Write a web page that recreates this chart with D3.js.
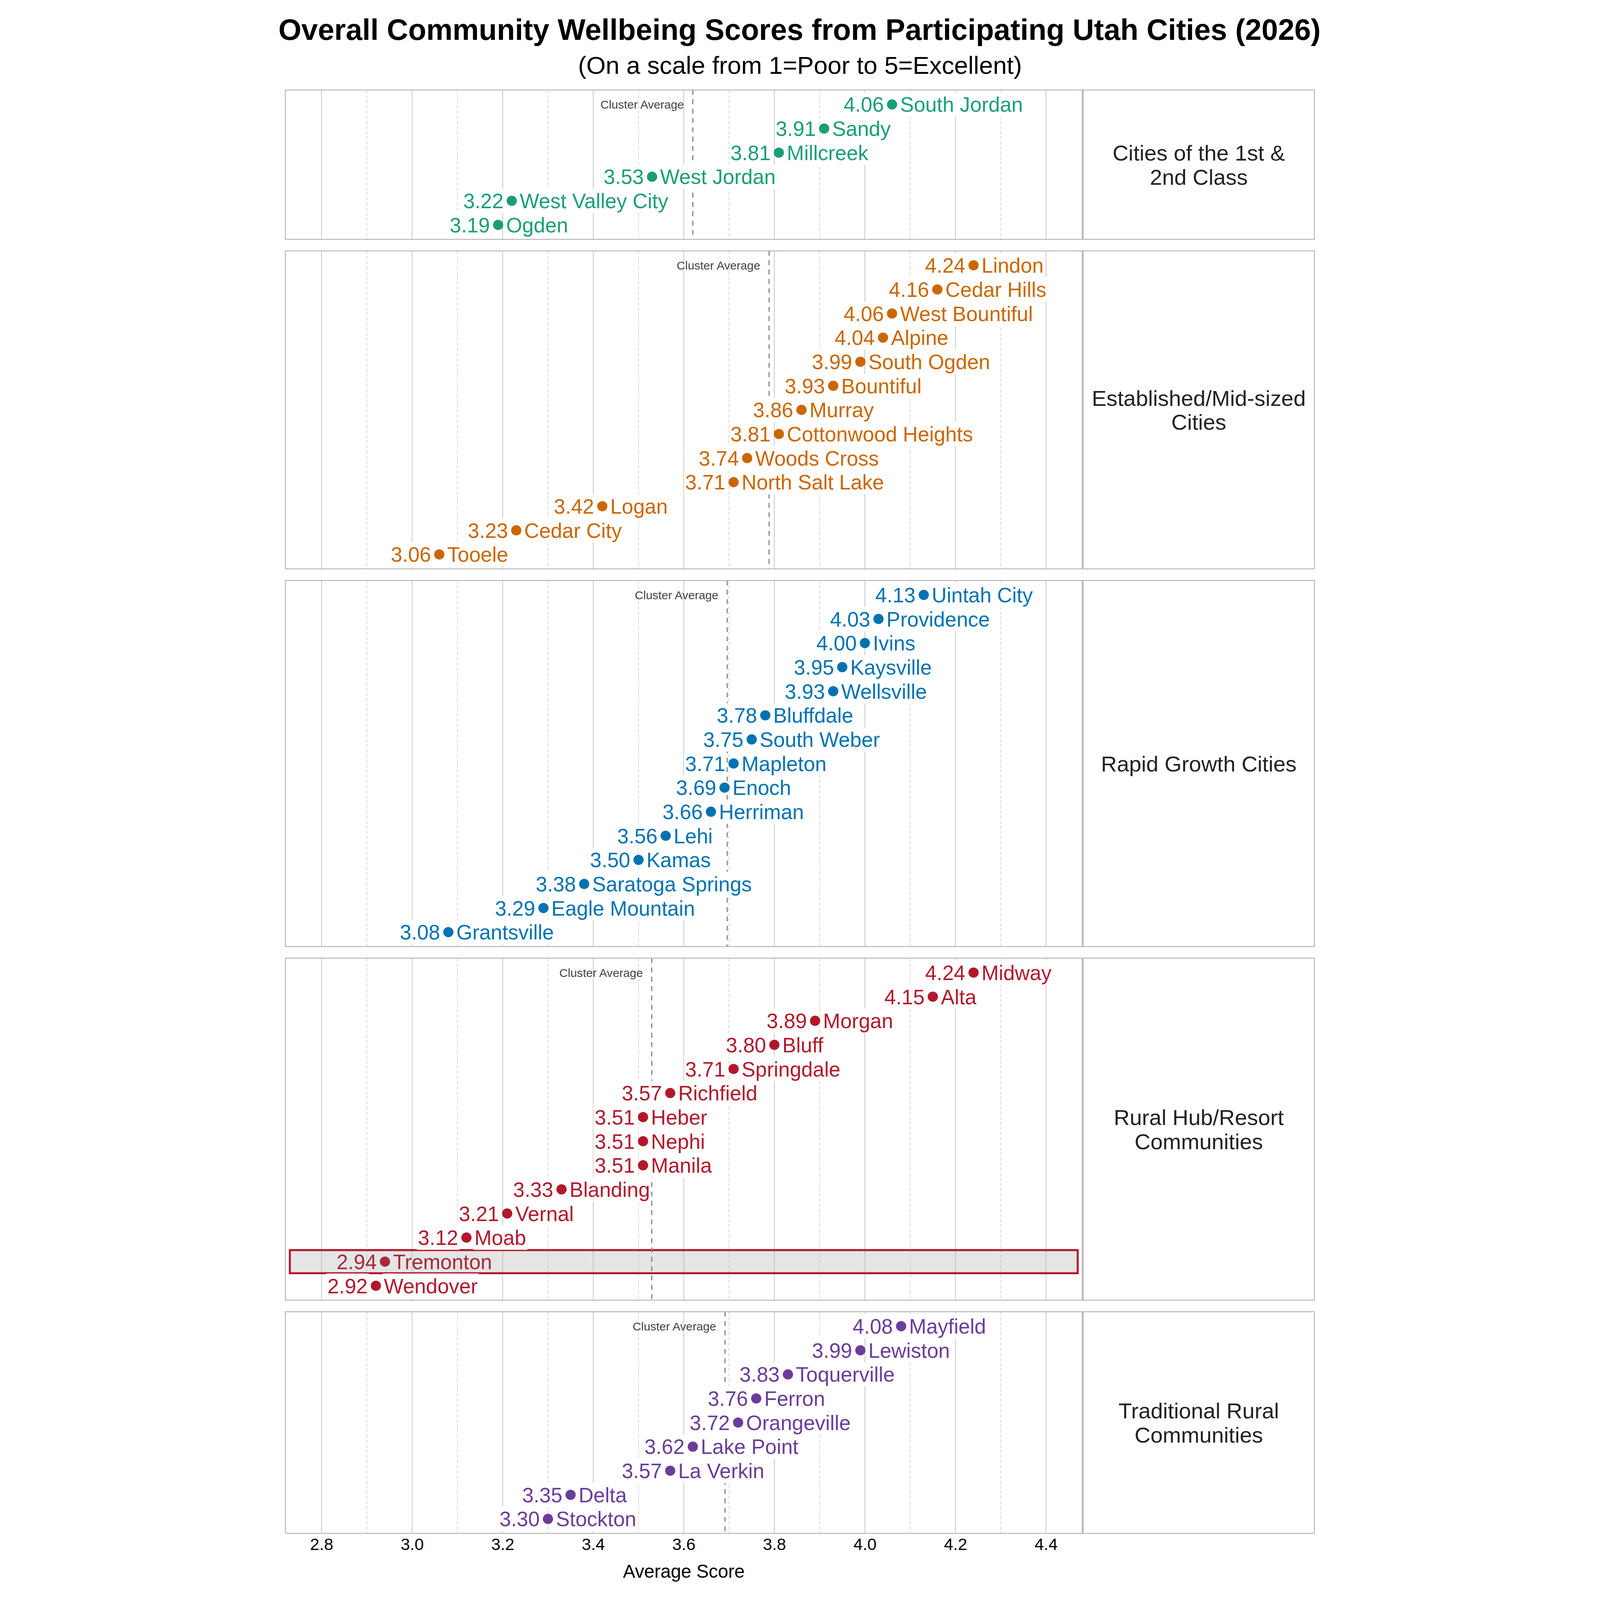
<!DOCTYPE html>
<html>
<head>
<meta charset="utf-8">
<script src="https://cdn.jsdelivr.net/npm/d3@7"></script>
<style>
  html, body { margin: 0; padding: 0; background: #fff; overflow: hidden; }
  #chart svg { display: block; width: 100vw; height: 100vh; }
  svg text { font-family: "Liberation Sans", Arial, sans-serif; }
</style>
</head>
<body>
<div id="chart"></div>
<script>
// cluster names (as they wrap in the side panel)
var clusterLabels = [
  ["Cities of the 1st &", "2nd Class"],
  ["Established/Mid-sized", "Cities"],
  ["Rapid Growth Cities"],
  ["Rural Hub/Resort", "Communities"],
  ["Traditional Rural", "Communities"]
];
var clusterColors = ["#1b9e77", "#cc6600", "#0072b2", "#b2182b", "#6a3d9a"];

var firstClassCities = ["South Jordan", "Sandy", "Millcreek", "West Jordan", "West Valley City", "Ogden"];
var firstClassScores = [4.06, 3.91, 3.81, 3.53, 3.22, 3.19];

var establishedCities = ["Lindon", "Cedar Hills", "West Bountiful", "Alpine", "South Ogden", "Bountiful", "Murray",
  "Cottonwood Heights", "Woods Cross", "North Salt Lake", "Logan", "Cedar City", "Tooele"];
var establishedScores = [4.24, 4.16, 4.06, 4.04, 3.99, 3.93, 3.86, 3.81, 3.74, 3.71, 3.42, 3.23, 3.06];

var rapidCities = ["Uintah City", "Providence", "Ivins", "Kaysville", "Wellsville", "Bluffdale", "South Weber",
  "Mapleton", "Enoch", "Herriman", "Lehi", "Kamas", "Saratoga Springs", "Eagle Mountain", "Grantsville"];
var rapidScores = [4.13, 4.03, 4.00, 3.95, 3.93, 3.78, 3.75, 3.71, 3.69, 3.66, 3.56, 3.50, 3.38, 3.29, 3.08];

var ruralHubCities = ["Midway", "Alta", "Morgan", "Bluff", "Springdale", "Richfield", "Heber", "Nephi", "Manila",
  "Blanding", "Vernal", "Moab", "Tremonton", "Wendover"];
var ruralHubScores = [4.24, 4.15, 3.89, 3.80, 3.71, 3.57, 3.51, 3.51, 3.51, 3.33, 3.21, 3.12, 2.94, 2.92];

var traditionalCities = ["Mayfield", "Lewiston", "Toquerville", "Ferron", "Orangeville", "Lake Point", "La Verkin",
  "Delta", "Stockton"];
var traditionalScores = [4.08, 3.99, 3.83, 3.76, 3.72, 3.62, 3.57, 3.35, 3.30];

var highlightCity = "Tremonton";
var xDomain = [2.72, 4.48];
var majorTicks = [2.8, 3.0, 3.2, 3.4, 3.6, 3.8, 4.0, 4.2, 4.4];
var minorTicks = [2.9, 3.1, 3.3, 3.5, 3.7, 3.9, 4.1, 4.3];

var groups = [
  {cities: firstClassCities, scores: firstClassScores},
  {cities: establishedCities, scores: establishedScores},
  {cities: rapidCities, scores: rapidScores},
  {cities: ruralHubCities, scores: ruralHubScores},
  {cities: traditionalCities, scores: traditionalScores}
];

var width = 4800, height = 7200;
var plotLeft = 84, plotRight = 3670, sideLeft = 3674, sideRight = 4715;
var top0 = 405, rowH = 108.4, gap = 52;

// drawn in a fixed 4800x7200 coordinate system, scaled to whatever the window is
var svg = d3.select("#chart").append("svg")
  .attr("viewBox", "0 0 " + width + " " + height)
  .attr("preserveAspectRatio", "xMidYMid meet");

svg.append("rect").attr("width", width).attr("height", height).attr("fill", "#fff");

svg.append("text")
  .attr("x", 2398).attr("y", 179)
  .attr("text-anchor", "middle")
  .style("font-size", "133px").style("font-weight", "bold")
  .attr("fill", "#000")
  .text("Overall Community Wellbeing Scores from Participating Utah Cities (2026)");

svg.append("text")
  .attr("x", 2400).attr("y", 333)
  .attr("text-anchor", "middle")
  .style("font-size", "112px")
  .attr("fill", "#000")
  .text("(On a scale from 1=Poor to 5=Excellent)");

var x = d3.scaleLinear().domain(xDomain).range([plotLeft, plotRight]);
var fmt = d3.format(".2f");

var panelTop = top0;
groups.forEach(function (g, gi) {
  var n = g.cities.length;
  var rows = g.cities.map(function (c, i) { return {name: c, score: g.scores[i], i: i}; });
  var panelH = (n + 0.2) * rowH;
  var y = d3.scaleLinear().domain([-0.6, n - 0.4]).range([panelTop, panelTop + panelH]);
  var color = clusterColors[gi];
  var mean = d3.mean(g.scores);

  var panel = svg.append("g").attr("class", "panel");

  // highlight band for the chosen city
  var hl = rows.filter(function (d) { return d.name === highlightCity; });
  panel.selectAll("rect.hl-fill").data(hl).enter().append("rect")
    .attr("class", "hl-fill")
    .attr("x", x(xDomain[0] + 0.01)).attr("width", x(xDomain[1] - 0.01) - x(xDomain[0] + 0.01))
    .attr("y", function (d) { return y(d.i) - rowH * 0.48; })
    .attr("height", rowH * 0.96)
    .attr("fill", "#e5e5e5");

  panel.selectAll("line.major").data(majorTicks).enter().append("line")
    .attr("x1", function (d) { return x(d); }).attr("x2", function (d) { return x(d); })
    .attr("y1", panelTop).attr("y2", panelTop + panelH)
    .attr("stroke", "#b3b3b3").attr("stroke-width", 2.5);

  panel.selectAll("line.minor").data(minorTicks).enter().append("line")
    .attr("x1", function (d) { return x(d); }).attr("x2", function (d) { return x(d); })
    .attr("y1", panelTop).attr("y2", panelTop + panelH)
    .attr("stroke", "#bbbbbb").attr("stroke-width", 2)
    .attr("stroke-dasharray", "15,8");

  panel.selectAll("rect.hl-edge").data(hl).enter().append("rect")
    .attr("x", x(xDomain[0] + 0.01)).attr("width", x(xDomain[1] - 0.01) - x(xDomain[0] + 0.01))
    .attr("y", function (d) { return y(d.i) - rowH * 0.48; })
    .attr("height", rowH * 0.96)
    .attr("fill", "none").attr("stroke", "#b2182b").attr("stroke-width", 9);

  // cluster average
  panel.append("line")
    .attr("x1", x(mean)).attr("x2", x(mean))
    .attr("y1", panelTop).attr("y2", panelTop + panelH)
    .attr("stroke", "#808080").attr("stroke-width", 5)
    .attr("stroke-dasharray", "22,20");

  panel.append("text")
    .attr("x", x(mean) - 40).attr("y", y(0)).attr("dy", "0.36em")
    .attr("text-anchor", "end")
    .style("font-size", "53px")
    .attr("fill", "#444")
    .text("Cluster Average");

  var boxes = panel.append("g");

  var row = panel.selectAll("g.row").data(rows).enter().append("g")
    .attr("class", "row")
    .attr("transform", function (d) { return "translate(" + [x(d.score), y(d.i)] + ")"; });

  var tone = function (d) { return d.name === highlightCity ? "#a62a3a" : color; };

  row.append("circle").attr("r", 23).attr("fill", tone);

  row.append("text")
    .attr("class", "lbl")
    .attr("x", -37).attr("dy", "0.36em")
    .attr("text-anchor", "end")
    .style("font-size", "93px")
    .attr("fill", tone)
    .text(function (d) { return fmt(d.score); });

  row.append("text")
    .attr("class", "lbl")
    .attr("x", 36).attr("dy", "0.36em")
    .style("font-size", "93px")
    .attr("fill", tone)
    .text(function (d) { return d.name; });

  // white backing behind the labels so the grid stops at the text
  row.filter(function (d) { return d.name !== highlightCity; }).selectAll("text.lbl").each(function () {
    var b = this.getBBox();
    var t = d3.select(this.parentNode).datum();
    boxes.append("rect")
      .attr("x", x(t.score) + b.x - 5).attr("width", b.width + 10)
      .attr("y", y(t.i) - 55).attr("height", 110)
      .attr("fill", "#fff");
  });

  panel.append("rect")
    .attr("x", plotLeft).attr("y", panelTop)
    .attr("width", plotRight - plotLeft).attr("height", panelH)
    .attr("fill", "none").attr("stroke", "#aaa").attr("stroke-width", 3.5);

  panel.append("rect")
    .attr("x", sideLeft).attr("y", panelTop)
    .attr("width", sideRight - sideLeft).attr("height", panelH)
    .attr("fill", "none").attr("stroke", "#aaa").attr("stroke-width", 3.5);

  var lines = clusterLabels[gi];
  var lineH = 108;
  panel.append("text")
    .attr("x", (sideLeft + sideRight) / 2)
    .attr("y", panelTop + panelH / 2 - (lines.length - 1) * lineH / 2)
    .attr("text-anchor", "middle")
    .style("font-size", "99px")
    .attr("fill", "#222")
    .selectAll("tspan").data(lines).enter().append("tspan")
    .attr("x", (sideLeft + sideRight) / 2)
    .attr("dy", function (d, i) { return i === 0 ? "0.36em" : lineH; })
    .text(function (d) { return d; });

  panelTop += panelH + (gi < groups.length - 1 ? gap : 0);
});

// x axis under the last panel, labels only
var axis = svg.append("g")
  .attr("transform", "translate(0," + panelTop + ")")
  .call(d3.axisBottom(x).tickValues(majorTicks).tickFormat(d3.format(".1f")).tickSize(0).tickPadding(22));
axis.select(".domain").remove();
axis.selectAll(".tick text")
  .style("font-size", "75px")
  .style("font-family", "'Liberation Sans', Arial, sans-serif")
  .attr("fill", "#000");

svg.append("text")
  .attr("x", (plotLeft + plotRight) / 2).attr("y", 7100)
  .attr("text-anchor", "middle")
  .style("font-size", "83px")
  .attr("fill", "#000")
  .text("Average Score");
</script>
</body>
</html>
